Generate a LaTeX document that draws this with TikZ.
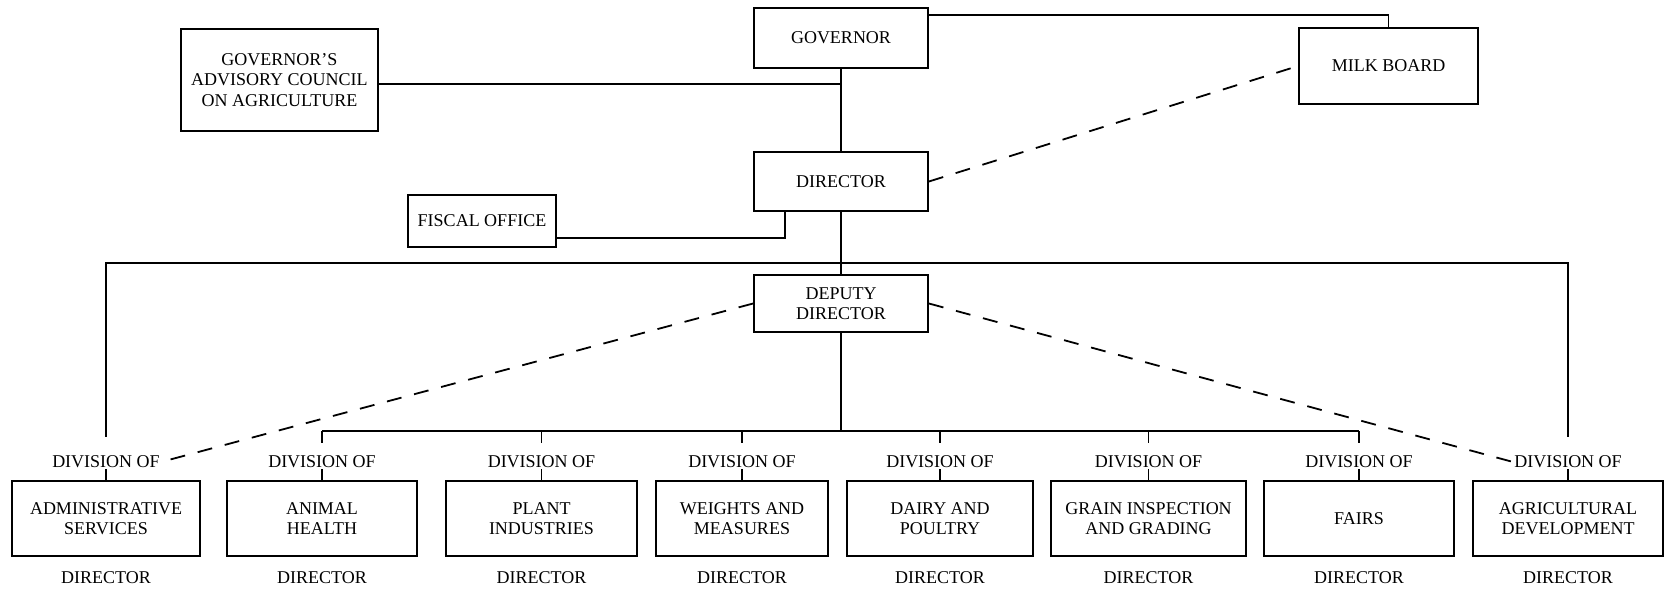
\documentclass[tikz,border=0pt]{standalone}
\usepackage{fontspec}
\setmainfont{Liberation Serif}
\usetikzlibrary{calc}
\begin{document}
\begin{tikzpicture}[x=1pt,y=-1pt,
  box/.style={draw, line width=1.8pt, inner sep=0pt, align=center,
    font=\fontsize{18}{20.5}\selectfont},
  lbl/.style={inner sep=1pt, font=\fontsize{18}{20.5}\selectfont},
  conn/.style={line width=1.8pt},
  staff/.style={line width=1.8pt, dash pattern=on 15pt off 13pt}]
\useasboundingbox (0,0) rectangle (1665,591);

% top of the organisation
\node[box, minimum width=174pt, minimum height=60pt] (gov) at (841,38) {GOVERNOR};
\node[box, minimum width=197pt, minimum height=102pt] (adv) at (279.5,80)
  {GOVERNOR'S\\ADVISORY COUNCIL\\ON AGRICULTURE};
\node[box, minimum width=179pt, minimum height=76pt] (milk) at (1388.5,66) {MILK BOARD};
\node[box, minimum width=174pt, minimum height=59pt] (dir) at (841,181.5) {DIRECTOR};
\node[box, minimum width=148pt, minimum height=52pt] (fisc) at (482,221) {FISCAL OFFICE};
\node[box, minimum width=174pt, minimum height=57pt] (dep) at (841,303.5) {DEPUTY\\DIRECTOR};

% divisions
\foreach \i/\cx/\w/\txt in {
  1/106/188/{ADMINISTRATIVE\\SERVICES},
  2/322/190/{ANIMAL\\HEALTH},
  3/541.5/191/{PLANT\\INDUSTRIES},
  4/742/172/{WEIGHTS AND\\MEASURES},
  5/940/186/{DAIRY AND\\POULTRY},
  6/1148.5/195/{GRAIN INSPECTION\\AND GRADING},
  7/1359/190/{FAIRS},
  8/1568/190/{AGRICULTURAL\\DEVELOPMENT}} {
  \node[box, minimum width=\w pt, minimum height=75pt] (div\i) at (\cx,518.5) {\txt};
  \node[lbl] (lab\i) at (\cx,462) {DIVISION OF};
  \node[lbl] (head\i) at (\cx,578) {DIRECTOR};
  \draw[conn] (lab\i.south) -- (div\i.north);
}

% solid lines of authority
\coordinate (brk) at (841,263);
\coordinate (bus) at (841,431);
\draw[conn] (gov.south) -- (dir.north);
\draw[conn] (dir.south) -- (dep.north);
\draw[conn] (dep.south) -- (bus);
\draw[conn] ([yshift=-4pt]adv.east) -- ([yshift=-4pt]adv.east -| gov.south);
\draw[conn] ([yshift=-8pt]gov.north east) -| (milk.north);
\draw[conn] ([yshift=10pt]fisc.south east) -| ([xshift=32pt]dir.south west);
\draw[conn] ([yshift=18pt]lab1.north) |- (brk) -| ([yshift=18pt]lab8.north);
\draw[conn] (lab2.north |- bus) -- (lab7.north |- bus);
\foreach \i in {2,...,7}
  \draw[conn] (lab\i.north |- bus) -- ([yshift=12pt]lab\i.north);

% staff relationships
\draw[staff] (dir.east) -- (milk.west);
\draw[staff] (dep.west) -- (lab1.east);
\draw[staff] (dep.east) -- (lab8.west);
\end{tikzpicture}
\end{document}
